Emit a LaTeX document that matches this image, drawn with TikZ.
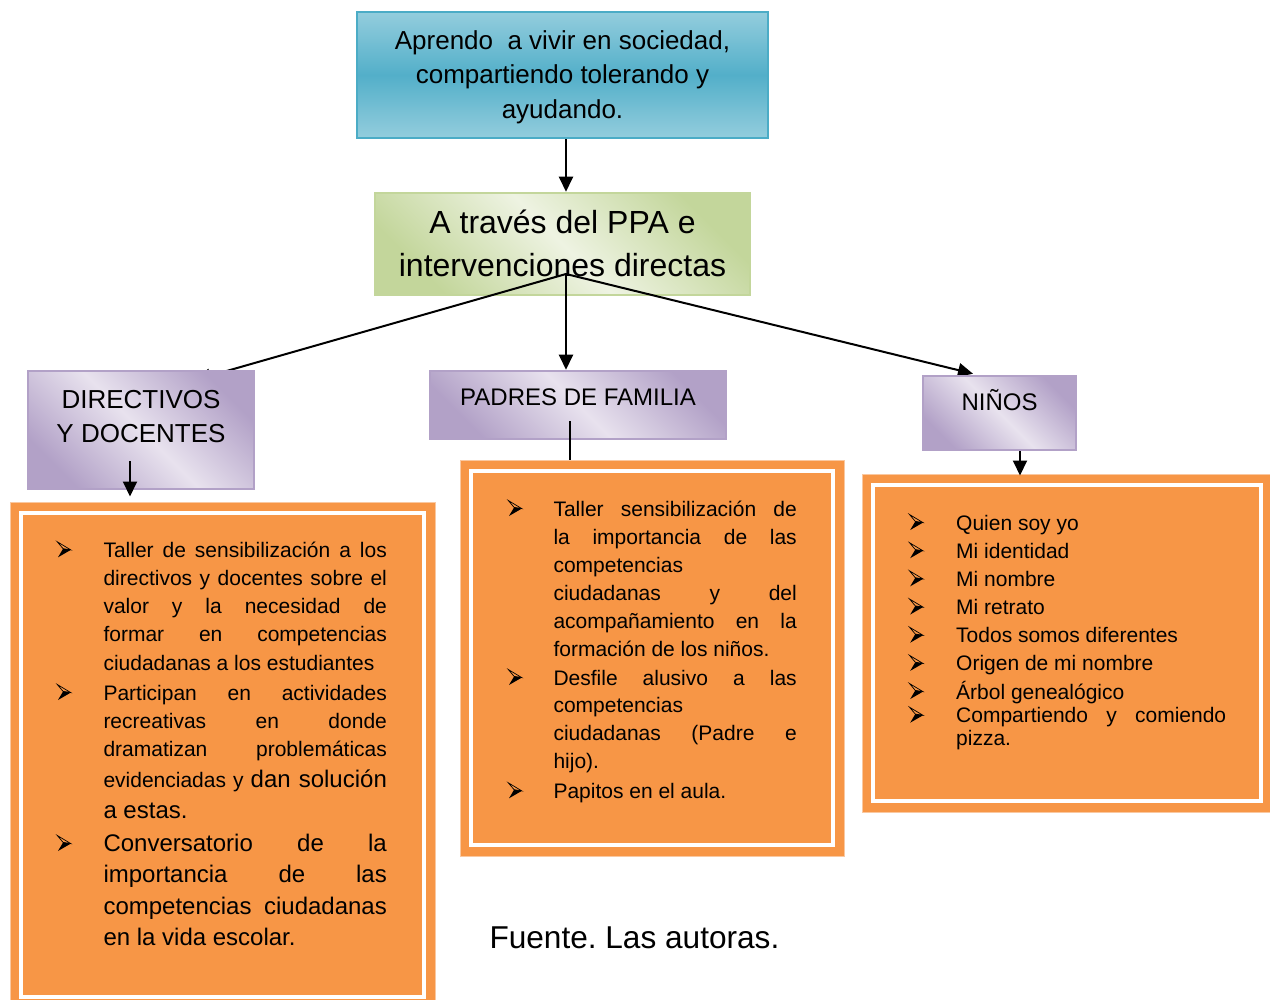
\documentclass[tikz,border=0pt]{standalone}
\usepackage{fontspec}
\setmainfont{Liberation Sans}
\usetikzlibrary{arrows.meta,calc}
\definecolor{tealB}{RGB}{75,172,198}
\definecolor{tealL}{RGB}{147,205,221}
\definecolor{tealM}{RGB}{83,175,201}
\definecolor{greenB}{RGB}{195,214,155}
\definecolor{greenL}{RGB}{238,243,226}
\definecolor{purpB}{RGB}{178,161,199}
\definecolor{purpL}{RGB}{232,226,238}
\definecolor{orangeF}{RGB}{247,150,70}
\definecolor{orangeE}{RGB}{250,200,160}
\pgfdeclarelayer{bg}
\pgfdeclarelayer{lone}
\pgfdeclarelayer{ltwo}
\pgfdeclarelayer{lthree}
\pgfsetlayers{bg,lone,ltwo,lthree,main}
\newcommand\J[1]{\makebox[\linewidth][s]{#1}}
\newcommand\fs[2]{\fontsize{#1}{#2}\selectfont}
\frenchspacing
\begin{document}
\begin{tikzpicture}[x=1pt,y=-1pt,
  topbox/.style={draw=tealB, line width=2.5pt, inner sep=0pt,
    top color=tealL, bottom color=tealL, middle color=tealM},
  greenbox/.style={draw=greenB, line width=2.5pt, inner sep=0pt,
    top color=greenB, bottom color=greenB, middle color=greenL, shading angle=-45},
  purpbox/.style={draw=purpB, line width=2.5pt, inner sep=0pt,
    top color=purpB, bottom color=purpB, middle color=purpL, shading angle=-45},
  obox/.style={fill=orangeF, draw=orangeE, line width=1pt, inner sep=0pt,
    path picture={\draw[white,line width=4pt]
      ([shift={(11pt,-11pt)}]path picture bounding box.north west) rectangle
      ([shift={(-11pt,11pt)}]path picture bounding box.south east);}},
  arr/.style={line width=2pt, -{Triangle[length=15pt,width=14pt]}},
  itm/.style={anchor=base west, inner sep=0pt, font=\fs{21}{28.2}},
  pics/bullet/.style={code={
    \draw[line width=0.7pt, line join=miter] (0.5,-15.5) -- (14,-7.4) -- (6.3,-8.6) -- cycle;
    \fill (6.3,-8.6) -- (14,-7.4) -- (1.2,0) -- cycle;}}
]
\useasboundingbox (0,0) rectangle (1270,1000);
\begin{pgfonlayer}{bg}
\fill[white] (0,0) rectangle (1270,1000);
\end{pgfonlayer}

% main boxes
\begin{pgfonlayer}{lone}
\node[topbox, minimum width=411pt, minimum height=126pt, text height=37.3pt, text depth=88.7pt] (top) at (562.5,75)
  {\parbox[t]{411pt}{\centering\fs{26}{34.5}Aprendo\ \ a vivir en sociedad,\\compartiendo tolerando y\\ayudando.}};
\node[greenbox, minimum width=375pt, minimum height=102pt, text height=40.3pt, text depth=61.7pt] (mid) at (562.5,244)
  {\parbox[t]{375pt}{\centering\fs{32}{43.4}A través del PPA e\\intervenciones directas}};
\end{pgfonlayer}

% category boxes
\begin{pgfonlayer}{lthree}
\node[purpbox, minimum width=226pt, minimum height=118pt, text height=37.3pt, text depth=80.7pt] (dir) at (141,430)
  {\parbox[t]{226pt}{\centering\fs{26}{34.4}DIRECTIVOS\\Y DOCENTES}};
\node[purpbox, minimum width=296pt, minimum height=68pt, text height=34.7pt, text depth=33.3pt] (pad) at (578,405)
  {\parbox[t]{296pt}{\centering\fs{24}{30}PADRES DE FAMILIA}};
\node[purpbox, minimum width=153pt, minimum height=74pt, text height=35pt, text depth=39pt] (nin) at (999.5,413)
  {\parbox[t]{153pt}{\centering\fs{24}{30}NIÑOS}};
\end{pgfonlayer}

% connectors from the hub
\begin{pgfonlayer}{ltwo}
\coordinate (hub) at (566,274);
\draw[arr] (hub |- top.south) -- (hub |- mid.north);
\draw[arr] (hub) -- ([xshift=55pt,yshift=-10pt]dir.north);
\draw[arr] (hub) -- (hub |- pad.north);
\draw[arr] (hub) -- ([xshift=-26.5pt,yshift=1pt]nin.north);
\end{pgfonlayer}

% orange boxes
\coordinate (padOut) at ([xshift=-8pt,yshift=19pt]pad.south);
\draw[line width=2pt] (padOut) -- ++(0,45);
\node[obox, minimum width=425pt, minimum height=506pt] (boxL) at (222.5,755) {};
\node[obox, minimum width=384pt, minimum height=396pt] (boxM) at (652,658) {};
\node[obox, minimum width=410pt, minimum height=338pt] (boxR) at (1067,643) {};

\coordinate (dirOut) at ([xshift=-11pt,yshift=29pt]dir.south);
\draw[arr] (dirOut) -- ($(dirOut |- boxL.north)+(0,-5)$);
\coordinate (ninOut) at ([xshift=20.5pt]nin.south);
\draw[arr] (ninOut) -- ($(ninOut |- boxR.north)+(0,2)$);

% left box text
\node[itm] (l1) at (103.3,557.3) {\parbox[t]{283.4pt}{\J{Taller de sensibilización a los}\\\J{directivos y docentes sobre el}\\\J{valor y la necesidad de}\\\J{formar en competencias}\\ciudadanas a los estudiantes}};
\node[itm, font=\fs{21}{28.3}] (l2) at (103.3,700) {\parbox[t]{283.4pt}{\J{Participan en actividades}\\\J{recreativas en donde}\\\J{dramatizan problemáticas}\\[2.8pt]\J{evidenciadas y {\fs{24}{28.3}dan solución}}\\[2.4pt]{\fs{24}{28.3}a estas.}}};
\node[itm, font=\fs{24}{31.6}] (l3) at (103.3,851) {\parbox[t]{283.4pt}{\J{Conversatorio de la}\\\J{importancia de las}\\\J{competencias ciudadanas}\\en la vida escolar.}};
\foreach \n in {l1,l2,l3} \pic at ([xshift=-46.5pt]\n.base west) {bullet};

% middle box text
\node[itm, font=\fs{21}{28}] (m1) at (553.3,516) {\parbox[t]{243.3pt}{\J{Taller sensibilización de}\\\J{la importancia de las}\\competencias\\\J{ciudadanas y del}\\\J{acompañamiento en la}\\formación de los niños.}};
\node[itm, font=\fs{21}{27.8}] (m2) at (553.3,685) {\parbox[t]{243.3pt}{\J{Desfile alusivo a las}\\competencias\\\J{ciudadanas (Padre e}\\hijo).}};
\node[itm] (m3) at (553.3,798.3) {Papitos en el aula.};
\foreach \n in {m1,m2,m3} \pic at ([xshift=-45.5pt]\n.base west) {bullet};

% right box text
\foreach \t [count=\i] in {Quien soy yo, Mi identidad, Mi nombre, Mi retrato, Todos somos diferentes, Origen de mi nombre, Árbol genealógico}
  {\node[itm] (r\i) at (956,{530+28.17*(\i-1)}) {\t};
   \pic at ([xshift=-47pt]r\i.base west) {bullet};}
\node[itm, font=\fs{21}{22.4}] (r8) at (956,722.7) {\parbox[t]{270pt}{\J{Compartiendo y comiendo}\\pizza.}};
\pic at ([xshift=-47pt]r8.base west) {bullet};

% source
\node[anchor=base west, inner sep=0pt, font=\fs{31.6}{38}] (src) at (489.3,948.3) {Fuente. Las autoras.};
\end{tikzpicture}
\end{document}
